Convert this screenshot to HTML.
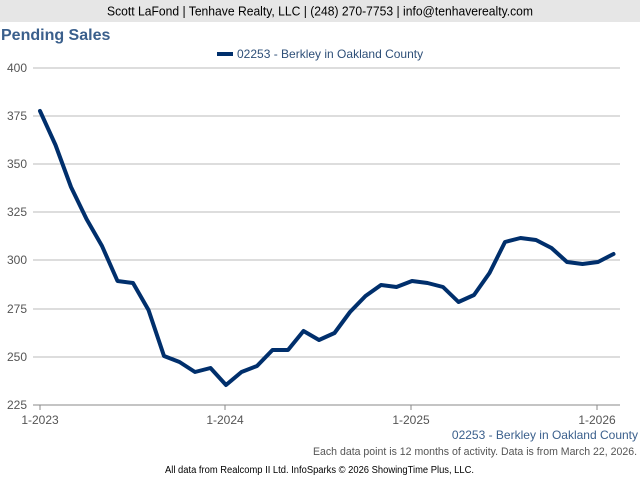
<!DOCTYPE html>
<html><head><meta charset="utf-8"><style>
html,body{margin:0;padding:0;background:#fff;width:640px;height:480px;overflow:hidden;font-family:"Liberation Sans",Arial,sans-serif}
</style></head><body>
<svg width="640" height="480" xmlns="http://www.w3.org/2000/svg" font-family="Liberation Sans, Arial, sans-serif">
<rect x="0" y="0" width="640" height="22" fill="#e6e6e6"/>
<text x="107" y="15.5" font-size="12.5" textLength="426" lengthAdjust="spacingAndGlyphs" fill="#000">Scott LaFond | Tenhave Realty, LLC | (248) 270-7753 | info@tenhaverealty.com</text>
<text x="1" y="40" font-size="16" font-weight="bold" fill="#3a5f8c">Pending Sales</text>
<line x1="217" y1="54" x2="233" y2="54" stroke="#002f6c" stroke-width="4"/>
<text x="237" y="58" font-size="12" fill="#2e4f78">02253 - Berkley in Oakland County</text>
<g stroke="#bbb" stroke-width="1">
<line x1="33" y1="68" x2="620" y2="68"/>
<line x1="33" y1="116" x2="620" y2="116"/>
<line x1="33" y1="164" x2="620" y2="164"/>
<line x1="33" y1="212" x2="620" y2="212"/>
<line x1="33" y1="260" x2="620" y2="260"/>
<line x1="33" y1="309" x2="620" y2="309"/>
<line x1="33" y1="357" x2="620" y2="357"/>
</g>
<line x1="33" y1="405" x2="620" y2="405" stroke="#888" stroke-width="1"/>
<g stroke="#888"><line x1="40" y1="405" x2="40" y2="410"/><line x1="225" y1="405" x2="225" y2="410"/><line x1="411" y1="405" x2="411" y2="410"/><line x1="597" y1="405" x2="597" y2="410"/></g>
<g font-size="12" fill="#555" text-anchor="end">
<text x="27" y="72">400</text><text x="27" y="120">375</text><text x="27" y="168">350</text><text x="27" y="216">325</text><text x="27" y="264">300</text><text x="27" y="313">275</text><text x="27" y="361">250</text><text x="27" y="409">225</text>
</g>
<g font-size="12" fill="#555" text-anchor="middle">
<text x="40" y="424">1-2023</text><text x="225" y="424">1-2024</text><text x="411" y="424">1-2025</text><text x="597" y="424">1-2026</text>
</g>
<polyline fill="none" stroke="#002f6c" stroke-width="4" stroke-linejoin="round" stroke-linecap="round" points="40,111 55.5,145 71,187 86.5,219 102,246 117.5,281 133,283 148.5,310 164,356 179.5,362 195,372 210.5,368 226,385 241.5,372 257,366 272.5,350 288,350 303.5,331 319,340 334.5,333 350,312 365.5,296 381,285 396.5,287 412,281 427.5,283 443,287 458.5,302 474,295 489.5,273 505,242 520.5,238 536,240 551.5,248 567,262 582.5,264 598,262 613.5,254"/>
<rect x="448" y="428" width="192" height="14" fill="#fff"/>
<text x="638" y="439" font-size="12" fill="#3a5f8c" text-anchor="end">02253 - Berkley in Oakland County</text>
<text x="313" y="455" font-size="11" textLength="324" lengthAdjust="spacingAndGlyphs" fill="#555">Each data point is 12 months of activity. Data is from March 22, 2026.</text>
<text x="165" y="473" font-size="10" textLength="309" lengthAdjust="spacingAndGlyphs" fill="#000">All data from Realcomp II Ltd. InfoSparks © 2026 ShowingTime Plus, LLC.</text>
</svg>
</body></html>
